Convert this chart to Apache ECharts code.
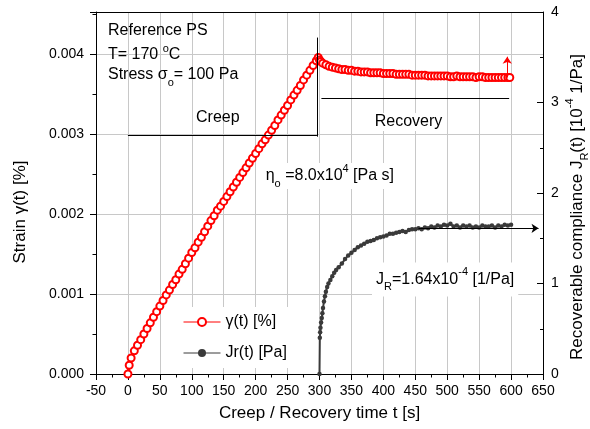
<!DOCTYPE html>
<html lang="en">
<head>
    <meta charset="UTF-8">
    <title>Creep / Recovery</title>
    <style>
        html, body { margin: 0; padding: 0; background: #fff; }
    </style>
</head>
<body>
    <div id="chart" style="width: 590px;height:429px;"></div>
    <script src="https://cdn.jsdelivr.net/npm/echarts@6/dist/echarts.min.js"></script>
    <script type="text/javascript">
        // creep part (t in s, strain in %)
        var creepT = [0, 2, 5, 10, 15, 20, 25, 30, 35, 40, 45, 50, 55, 60, 65, 70, 75, 80, 85, 90, 95,
            100, 105, 110, 115, 120, 125, 130, 135, 140, 145, 150, 155, 160, 165, 170, 175, 180, 185, 190, 195,
            200, 205, 210, 215, 220, 225, 230, 235, 240, 245, 250, 255, 260, 265, 270, 275, 280, 285, 290, 295, 298];
        var creepStrain = [0.00000, 0.00011, 0.00020, 0.00029, 0.00036, 0.00043, 0.00050, 0.00057, 0.00064, 0.00071,
            0.00078, 0.00085, 0.00092, 0.00099, 0.00105, 0.00112, 0.00118, 0.00125, 0.00131, 0.00138, 0.00145,
            0.00152, 0.00158, 0.00165, 0.00171, 0.00178, 0.00185, 0.00192, 0.00198, 0.00205, 0.00210,
            0.00216, 0.00222, 0.00228, 0.00234, 0.00240, 0.00246, 0.00252, 0.00258, 0.00264, 0.00270,
            0.00276, 0.00282, 0.00288, 0.00293, 0.00299, 0.00305, 0.00311, 0.00318, 0.00324, 0.00330,
            0.00336, 0.00343, 0.00349, 0.00355, 0.00361, 0.00368, 0.00374, 0.00380, 0.00386, 0.00392, 0.00396];

        // recovery part
        var recT = [300, 302, 305, 310, 315, 320, 325, 330, 335, 340, 345, 350, 355, 360, 365, 370, 375, 380, 385, 390, 395,
            400, 405, 410, 415, 420, 425, 430, 435, 440, 445, 450, 455, 460, 465, 470, 475, 480, 485, 490, 495,
            500, 505, 510, 515, 520, 525, 530, 535, 540, 545, 550, 555, 560, 565, 570, 575, 580, 585, 590, 595, 598];
        var recStrain = [0.00393, 0.00391, 0.00389, 0.00387, 0.00385, 0.00384, 0.00383, 0.00382, 0.00381, 0.00381,
            0.00380, 0.00380, 0.00379, 0.00379, 0.00378, 0.00378, 0.00378, 0.00377, 0.00377, 0.00377, 0.00377,
            0.00376, 0.00376, 0.00376, 0.00376, 0.00375, 0.00375, 0.00375, 0.00375, 0.00375, 0.00374,
            0.00374, 0.00374, 0.00374, 0.00374, 0.00373, 0.00373, 0.00373, 0.00373, 0.00373, 0.00373,
            0.00373, 0.00372, 0.00372, 0.00373, 0.00372, 0.00372, 0.00372, 0.00372, 0.00372, 0.00371,
            0.00372, 0.00372, 0.00371, 0.00371, 0.00371, 0.00371, 0.00371, 0.00371, 0.00371, 0.00371, 0.00371];

        // recoverable compliance Jr (10^-4 1/Pa)
        var jrT = [300, 300.5, 301, 301.5, 302.5, 303.5, 304.5, 305.5, 307, 308.5, 310, 312, 314, 317, 320, 323, 326,
            330, 335, 340, 345, 350, 355, 360, 365, 370, 375, 380, 385, 390, 395, 400, 405, 410, 415, 420, 425,
            430, 435, 440, 445, 450, 455, 460, 465, 470, 475, 480, 485, 490, 495, 500, 505, 510, 515, 520, 525,
            530, 535, 540, 545, 550, 555, 560, 565, 570, 575, 580, 585, 590, 595, 600];
        var jrVal = [0, 0.40, 0.46, 0.51, 0.57, 0.62, 0.67, 0.73, 0.80, 0.86, 0.91, 0.96, 1.00, 1.04, 1.08, 1.12, 1.15,
            1.18, 1.22, 1.27, 1.31, 1.34, 1.37, 1.40, 1.42, 1.44, 1.46, 1.47, 1.48, 1.50, 1.51, 1.52, 1.53, 1.55, 1.55, 1.56, 1.57,
            1.58, 1.57, 1.59, 1.60, 1.60, 1.61, 1.60, 1.62, 1.61, 1.63, 1.62, 1.64, 1.63, 1.65, 1.64, 1.66, 1.63, 1.64, 1.62, 1.64,
            1.63, 1.64, 1.62, 1.63, 1.62, 1.64, 1.63, 1.63, 1.64, 1.62, 1.64, 1.63, 1.65, 1.64, 1.65];

        var xTicks = [-50, 650, 50];          // min, max, step
        var strainTicks = [0, 0.00453, 0.001];
        var jrTicks = [0, 4, 1];

        // annotation lines [x1, y1, x2, y2]
        var vLine = [297, 0.00297, 297, 0.00421];
        var creepLine = [0, 0.00299, 296, 0.00299];
        var recLine = [303, 0.00345, 597, 0.00345];
        var redArrow = [594, 0.00371, 594, 0.00397];
        var jrArrow = [455, 1.61, 643, 1.61];

        var font = 'Liberation Sans, Arial, sans-serif';
        var gridColor = '#c8c8c8';

        function pairs(xs, ys) {
            return xs.map(function (x, i) { return [x, ys[i]]; });
        }
        function seg(a, color, arrow) {
            return [
                { coord: [a[0], a[1]], symbol: 'none', lineStyle: { color: color, width: 1, type: 'solid' } },
                { coord: [a[2], a[3]], symbol: arrow ? 'arrow' : 'none', symbolSize: 7 }
            ];
        }
        function txt(x, y, text, rich, opt) {
            opt = opt || {};
            var style = {
                text: text, fill: '#000', font: (opt.size || 16) + 'px ' + font,
                align: opt.align || 'left', textAlign: opt.align || 'left',
                verticalAlign: 'middle', textVerticalAlign: 'middle'
            };
            if (rich) style.rich = rich;
            if (opt.bg) { style.backgroundColor = opt.bg; style.padding = opt.pad || 0; }
            return { type: 'text', x: x, y: y, z: 100, rotation: opt.rot || 0, style: style };
        }
        function rich(size) {
            return {
                n: { fontSize: size, lineHeight: 26, fontFamily: font, color: '#000' },
                s: { fontSize: 11, lineHeight: 12, verticalAlign: 'top', fontFamily: font, color: '#000' },
                b: { fontSize: 11, lineHeight: 10, verticalAlign: 'bottom', fontFamily: font, color: '#000' }
            };
        }
        var richSup = {
            n: { fontSize: 16, lineHeight: 22, fontFamily: font, color: '#000' },
            s: { fontSize: 11, lineHeight: 12, verticalAlign: 'top', fontFamily: font, color: '#000' }
        };

        var myChart = echarts.init(document.getElementById('chart'));
        var option = {
            animation: false,
            textStyle: { fontFamily: font },
            grid: { left: 96, right: 47, top: 12, bottom: 55 },
            legend: {
                orient: 'vertical', left: 178, top: 307,
                padding: [7, 10, 7, 5], backgroundColor: '#fff',
                itemWidth: 37, itemHeight: 10, itemGap: 15,
                lineStyle: { width: 1 },
                textStyle: { fontSize: 16, color: '#000', fontFamily: font },
                data: ['γ(t) [%]', 'Jr(t) [Pa]']
            },
            xAxis: [{
                type: 'value', min: xTicks[0], max: xTicks[1], interval: xTicks[2],
                axisLine: { onZero: false, lineStyle: { color: '#000', width: 1 } },
                axisTick: { length: 6, lineStyle: { color: '#000' } },
                minorTick: { show: true, splitNumber: 2, length: 3.5, lineStyle: { color: '#000' } },
                splitLine: { show: true, lineStyle: { color: gridColor, width: 1 } },
                axisLabel: { fontSize: 14, color: '#000', margin: 10 }
            }, {
                type: 'value', position: 'top', min: xTicks[0], max: xTicks[1],
                axisLine: { show: true, onZero: false, lineStyle: { color: '#000', width: 1 } },
                axisTick: { show: false }, axisLabel: { show: false }, splitLine: { show: false }
            }],
            yAxis: [{
                type: 'value', min: strainTicks[0], max: strainTicks[1], interval: strainTicks[2], position: 'left',
                axisLine: { show: true, onZero: false, lineStyle: { color: '#000', width: 1 } },
                axisTick: { show: true, length: 6, lineStyle: { color: '#000' } },
                minorTick: { show: true, splitNumber: 2, length: 3.5, lineStyle: { color: '#000' } },
                splitLine: { show: true, lineStyle: { color: gridColor, width: 1 } },
                axisLabel: {
                    fontSize: 14, color: '#000', margin: 12, showMaxLabel: false,
                    formatter: function (v) { return v > 0.0042 ? '' : v.toFixed(3); }
                }
            }, {
                type: 'value', min: jrTicks[0], max: jrTicks[1], interval: jrTicks[2], position: 'right',
                axisLine: { show: true, onZero: false, lineStyle: { color: '#000', width: 1 } },
                axisTick: { show: true, inside: true, length: 6, lineStyle: { color: '#000' } },
                minorTick: { show: true, splitNumber: 2, length: 3, lineStyle: { color: '#000' } },
                splitLine: { show: false },
                axisLabel: { fontSize: 14, color: '#000', margin: 8 }
            }],
            series: [{
                name: 'γ(t) [%]',
                type: 'line',
                yAxisIndex: 0,
                data: pairs(creepT.concat(recT), creepStrain.concat(recStrain)),
                symbol: 'emptyCircle', symbolSize: 7, showAllSymbol: true,
                lineStyle: { color: '#ff0000', width: 3 },
                itemStyle: { color: '#ff0000', borderColor: '#ff0000', borderWidth: 2.8 },
                emphasis: { disabled: true },
                z: 3,
                markLine: {
                    silent: true, animation: false, label: { show: false }, emphasis: { disabled: true },
                    data: [seg(vLine, '#000'), seg(creepLine, '#000'), seg(recLine, '#000'), seg(redArrow, '#ff0000', true)]
                }
            }, {
                name: 'Jr(t) [Pa]',
                type: 'line',
                yAxisIndex: 1,
                data: pairs(jrT, jrVal),
                symbol: 'circle', symbolSize: 4.5, showAllSymbol: true,
                lineStyle: { color: '#3a3a3a', width: 2 },
                itemStyle: { color: '#3a3a3a' },
                emphasis: { disabled: true },
                z: 2,
                markLine: {
                    silent: true, animation: false, label: { show: false }, emphasis: { disabled: true },
                    data: [seg(jrArrow, '#000', true)]
                }
            }],
            graphic: [
                txt(108, 30.5, 'Reference PS'),
                txt(108, 54.5, '{n|T= 170 }{s|o}{n|C}', richSup),
                txt(108, 75, '{n|Stress σ}{b|o}{n|= 100 Pa}', rich(16)),
                txt(196, 118, 'Creep'),
                txt(372.7, 122, 'Recovery', null, { bg: '#fff', pad: [1, 2] }),
                txt(262.7, 176, '{n|η}{b|o}{n| =8.0x10}{s|4}{n| [Pa s]}', rich(16), { bg: '#fff', pad: [0, 3] }),
                txt(372, 279.5, '{n|J}{b|R}{n|=1.64x10}{s|-4}{n| [1/Pa]}', rich(16), { bg: '#fff', pad: [4, 4] }),
                txt(319.5, 413, 'Creep / Recovery time t [s]', null, { size: 17, align: 'center' }),
                txt(20, 212, '{n|Strain γ(t) [%]}', rich(17), { rot: Math.PI / 2, align: 'center' }),
                txt(577, 207, '{n|Recoverable compliance J}{b|R}{n|(t) [10}{s|-4}{n| 1/Pa]}', rich(17), { rot: Math.PI / 2, align: 'center' })
            ]
        };
        myChart.setOption(option);
    </script>
</body>
</html>
